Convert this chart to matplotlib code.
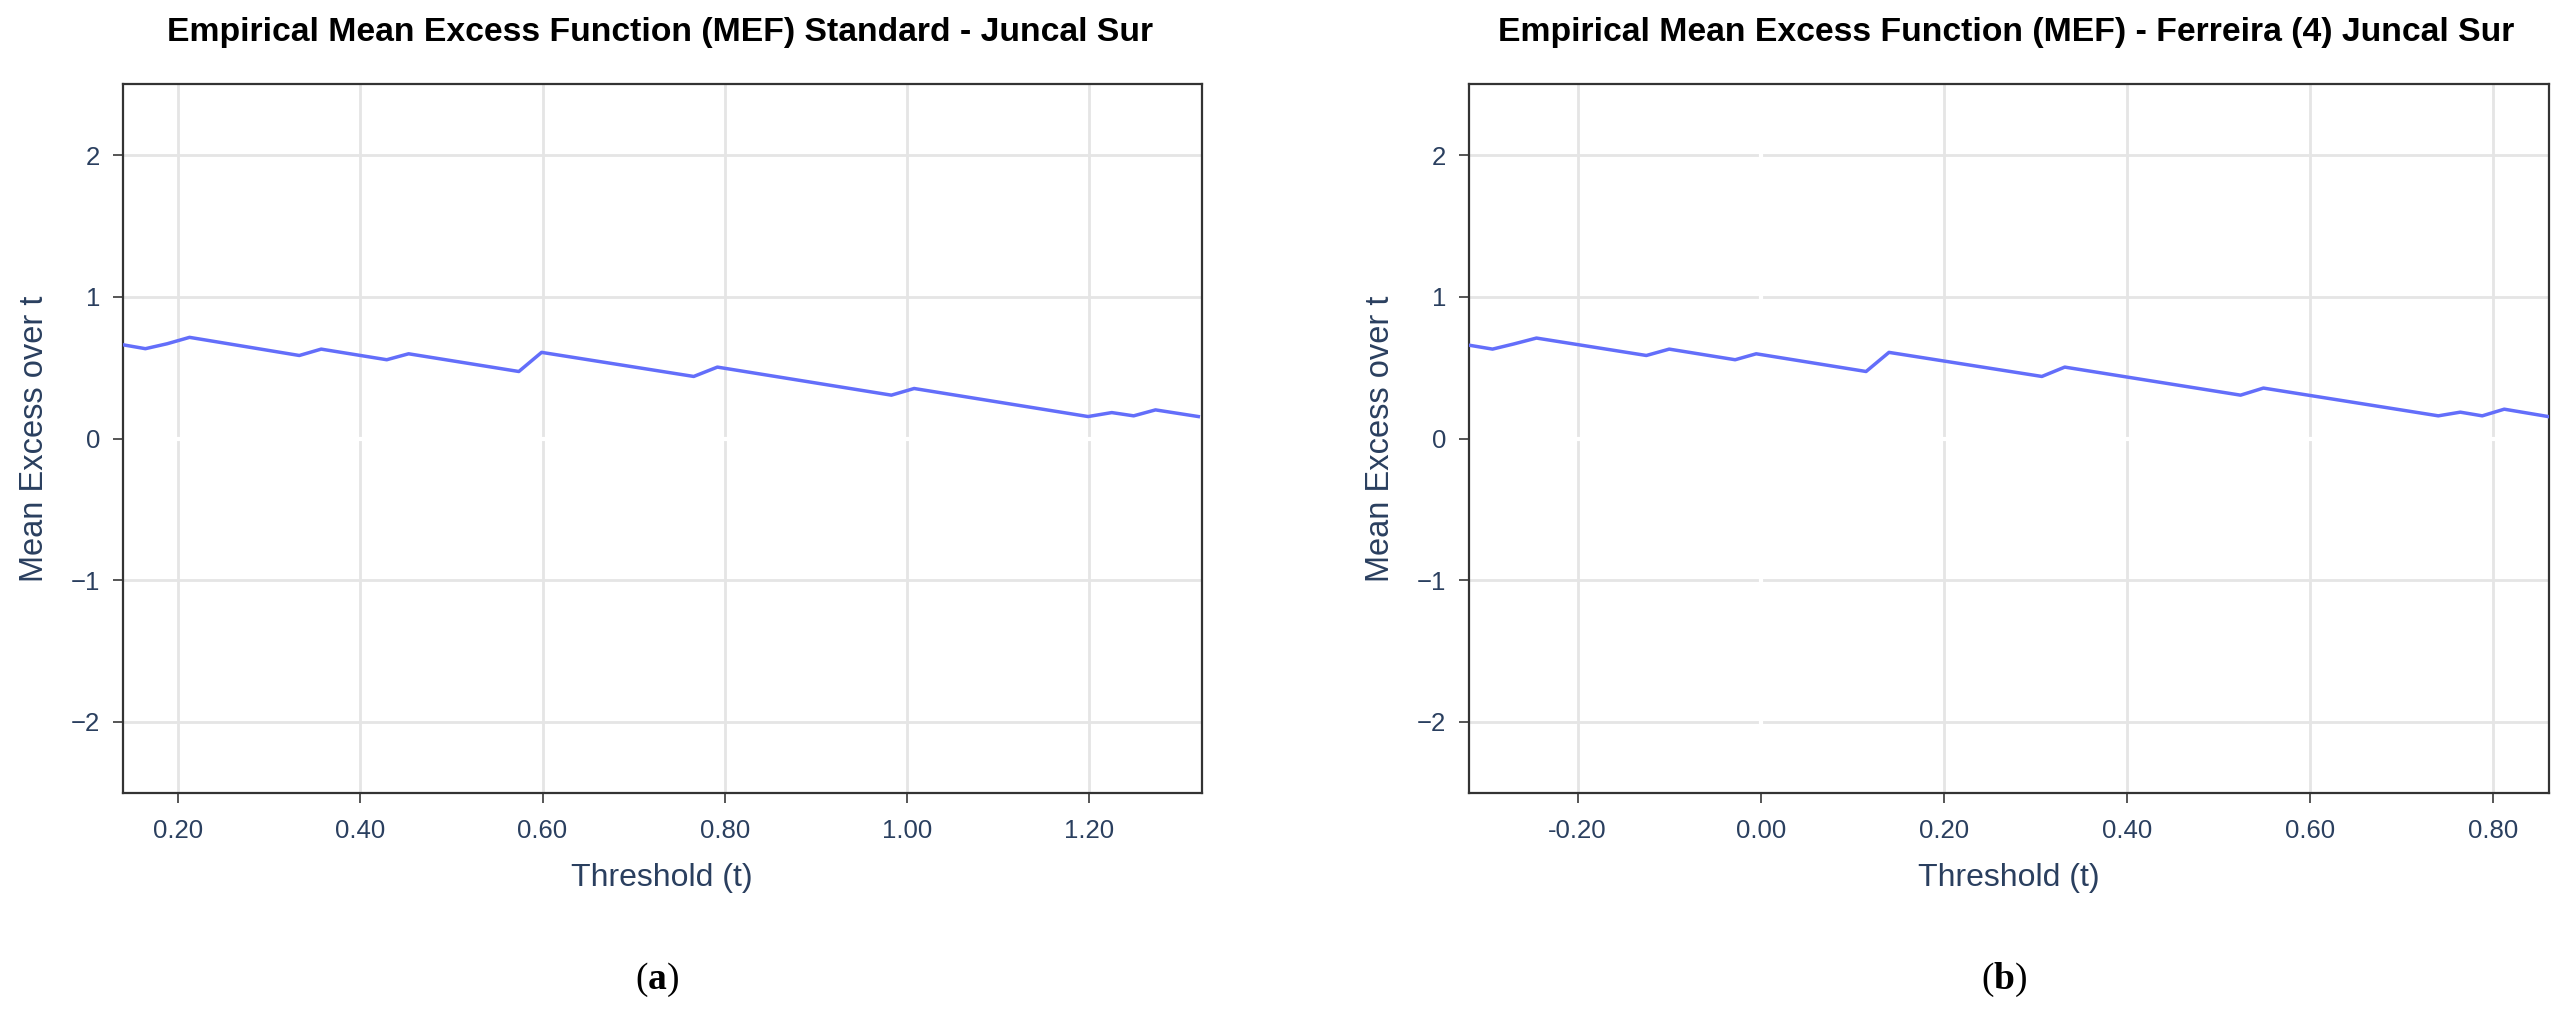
import matplotlib.pyplot as plt
from matplotlib.ticker import FormatStrFormatter

# MEF vertices
t_standard = [0.139, 0.164, 0.188, 0.2125, 0.333, 0.357, 0.429, 0.453, 0.574, 0.599,
              0.766, 0.792, 0.983, 1.008, 1.199, 1.225, 1.249, 1.273, 1.320]
mef_standard = [0.662, 0.634, 0.669, 0.714, 0.586, 0.631, 0.556, 0.598, 0.473, 0.608,
                0.438, 0.504, 0.306, 0.353, 0.155, 0.183, 0.160, 0.202, 0.155]

t_ferreira = [-0.317, -0.293, -0.270, -0.245, -0.125, -0.100, -0.028, -0.005, 0.115, 0.140,
              0.307, 0.332, 0.524, 0.549, 0.740, 0.764, 0.788, 0.812, 0.860]
mef_ferreira = [0.657, 0.631, 0.667, 0.709, 0.586, 0.631, 0.556, 0.598, 0.473, 0.608,
                0.438, 0.504, 0.306, 0.356, 0.160, 0.186, 0.160, 0.207, 0.155]

titles = ["Empirical Mean Excess Function (MEF) Standard - Juncal Sur",
          "Empirical Mean Excess Function (MEF) - Ferreira (4) Juncal Sur"]
panel_tags = ["a", "b"]
xlims = [(0.139, 1.324), (-0.319, 0.861)]
xticks = [[0.2, 0.4, 0.6, 0.8, 1.0, 1.2], [-0.2, 0.0, 0.2, 0.4, 0.6, 0.8]]
yticks = [-2, -1, 0, 1, 2]

plt.rcParams['font.family'] = ['Liberation Sans', 'DejaVu Sans']
plt.rcParams['mathtext.fontset'] = 'custom'
plt.rcParams['mathtext.bf'] = 'Liberation Serif:bold'
plt.rcParams['mathtext.rm'] = 'Liberation Serif'

text_col = '#2a3f5f'
line_col = '#636efa'
grid_col = '#e5e5e5'

fig = plt.figure(figsize=(25.65, 10.16), dpi=100)
positions = [[0.0478, 0.2198, 0.4208, 0.6972], [0.5726, 0.2198, 0.4212, 0.6972]]
series = [(t_standard, mef_standard), (t_ferreira, mef_ferreira)]

for i in range(2):
    ax = fig.add_axes(positions[i])
    t, m = series[i]
    ax.set_xlim(*xlims[i])
    ax.set_ylim(-2.5, 2.5)
    ax.set_xticks(xticks[i])
    ax.set_yticks(yticks)
    ax.xaxis.set_major_formatter(FormatStrFormatter('%.2f'))
    ax.grid(True, color=grid_col, lw=2, zorder=0)
    ax.set_axisbelow(True)
    # white zero lines over the grid
    ax.axhline(0, color='white', lw=3, zorder=1)
    ax.axvline(0, color='white', lw=3, zorder=1)
    ax.plot(t, m, color=line_col, lw=2.5, zorder=3)
    for s in ax.spines.values():
        s.set_color('#333333')
        s.set_linewidth(1.6)
    ax.tick_params(axis='both', direction='out', length=7, width=1.4, color='#555555',
                   labelcolor=text_col, labelsize=18.5, pad=9)
    ax.tick_params(axis='x', pad=12)
    ax.set_xlabel("Threshold (t)", fontsize=23, color=text_col, labelpad=14)
    ax.set_ylabel("Mean Excess over t", fontsize=23.5, color=text_col)
    ax.yaxis.set_label_coords(-0.0675, 0.5)
    x0, _, w, _ = positions[i]
    fig.text(x0 + w / 2 - 0.001, 0.9685, titles[i], ha='center', va='center',
             fontsize=24.3, fontweight='bold', color='black')
    fig.text(x0 + w / 2 - 0.002, 1 - 980 / 1016, r"($\mathbf{%s}$)" % panel_tags[i],
             ha='center', va='center', fontsize=27, color='black', family='Liberation Serif')

fig.savefig("out.png", dpi=100)
plt.close()
